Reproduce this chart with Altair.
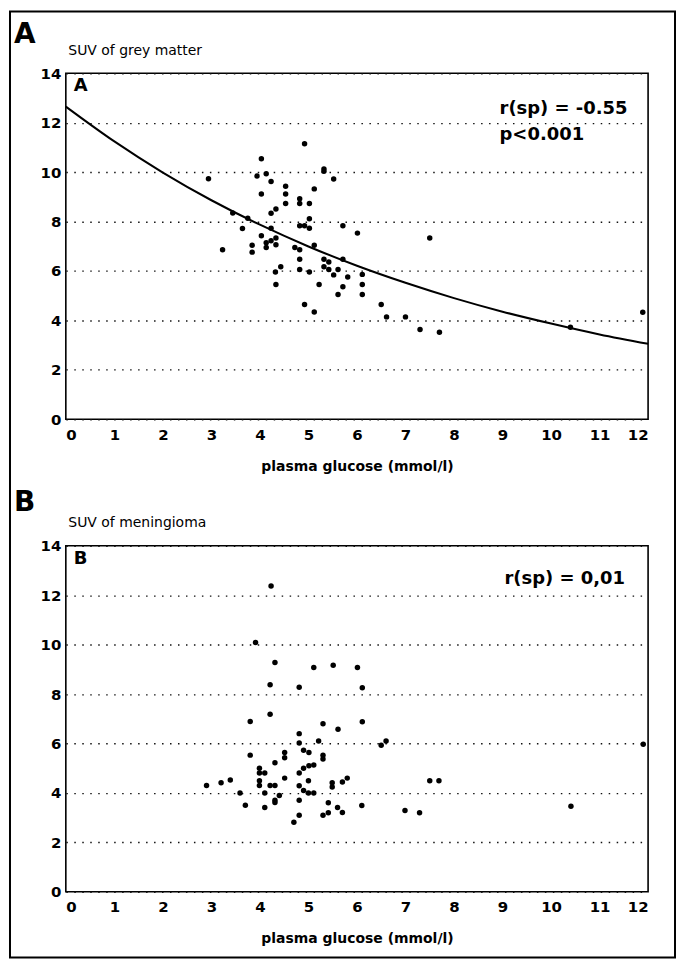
import altair as alt
import pandas as pd

# ---------------- data ----------------
glucose_a = [2.94, 3.23, 3.44, 3.75, 3.64, 3.84, 3.84, 4.03, 3.94, 4.13,
             4.23, 4.03, 4.23, 4.33, 4.23, 4.03, 4.13, 4.13, 4.33, 4.33,
             4.23, 4.32, 4.43, 4.33, 4.53, 4.53, 4.53, 4.82, 4.82, 5.02,
             4.92, 5.12, 5.32, 5.32, 5.52, 5.02, 4.82, 4.92, 5.02, 4.72,
             4.82, 5.12, 4.82, 4.82, 5.02, 4.92, 5.12, 5.22, 5.32, 5.42,
             5.32, 5.42, 5.52, 5.61, 5.71, 5.71, 5.81, 5.71, 5.61, 6.01,
             6.11, 6.11, 6.11, 6.50, 6.61, 7.00, 7.30, 7.70, 7.50, 10.40,
             11.89]
suv_a = [9.73, 6.86, 8.34, 8.13, 7.72, 7.04, 6.76, 10.54, 9.84, 9.93,
         9.62, 9.11, 8.33, 8.51, 7.73, 7.42, 7.14, 6.95, 7.33, 7.06,
         7.22, 5.96, 6.17, 5.45, 9.43, 9.11, 8.73, 8.92, 8.73, 8.73,
         11.15, 9.32, 10.13, 10.03, 9.72, 8.11, 7.83, 7.83, 7.73, 6.95,
         6.86, 7.04, 6.47, 6.06, 5.96, 4.64, 4.34, 5.45, 6.47, 6.36,
         6.17, 6.06, 5.84, 6.06, 6.47, 7.83, 5.75, 5.36, 5.05, 7.53,
         5.86, 5.45, 5.05, 4.64, 4.14, 4.14, 3.63, 3.52, 7.33, 3.72,
         4.33]

# regression curve at whole glucose values
fit_glucose = [0, 1, 2, 3, 4, 5, 6, 7, 8, 9, 10, 11, 12]
fit_suv = [12.65, 11.24, 9.98, 8.86, 7.87, 6.99, 6.21, 5.52, 4.90, 4.35, 3.87, 3.43, 3.05]

glucose_b = [4.23, 3.91, 4.31, 5.11, 5.51, 6.01, 4.21, 4.81, 6.11, 4.21,
             3.80, 5.30, 5.61, 6.11, 4.81, 4.81, 5.21, 6.50, 6.60, 3.80,
             4.51, 4.51, 4.90, 5.01, 5.30, 5.30, 4.31, 3.99, 3.99, 4.10,
             4.90, 5.01, 5.11, 4.81, 3.99, 3.99, 4.51, 4.21, 4.31, 5.00,
             5.49, 5.49, 5.70, 5.80, 2.90, 3.20, 3.39, 3.59, 4.10, 4.81,
             4.90, 5.00, 5.11, 4.40, 4.31, 4.31, 4.81, 3.70, 4.10, 5.41,
             5.60, 5.70, 5.30, 5.41, 4.81, 4.70, 6.10, 6.99, 7.29, 7.50,
             7.69, 10.41, 11.90]
suv_b = [12.37, 10.09, 9.28, 9.08, 9.17, 9.08, 8.38, 8.28, 8.26, 7.18,
         6.89, 6.80, 6.58, 6.88, 6.40, 6.02, 6.10, 5.93, 6.10, 5.53,
         5.64, 5.42, 5.73, 5.64, 5.53, 5.37, 5.22, 5.00, 4.81, 4.81,
         5.00, 5.10, 5.13, 4.81, 4.49, 4.30, 4.60, 4.30, 4.30, 4.49,
         4.41, 4.24, 4.44, 4.60, 4.30, 4.41, 4.52, 4.00, 4.00, 4.29,
         4.10, 4.00, 4.00, 3.90, 3.70, 3.61, 3.70, 3.50, 3.41, 3.60,
         3.41, 3.21, 3.10, 3.20, 3.10, 2.81, 3.49, 3.29, 3.20, 4.49,
         4.49, 3.46, 5.97]

x_ticks = [0, 1, 2, 3, 4, 5, 6, 7, 8, 9, 10, 11, 12]
y_ticks = [0, 2, 4, 6, 8, 10, 12, 14]

FONT = "DejaVu Sans"
W, H = 584, 347


def x_axis():
    return alt.Axis(values=x_ticks, title="plasma glucose (mmol/l)", grid=False,
                    ticks=False, domain=False, labelFont=FONT, labelFontSize=15,
                    labelFontWeight="bold", labelColor="black", labelPadding=8,
                    titleFont=FONT, titleFontSize=14, titleFontWeight="bold",
                    titleColor="black", titlePadding=17)


def y_axis(title):
    return alt.Axis(values=y_ticks, title=title, titleAngle=0, titleAlign="left",
                    titleBaseline="middle", titleX=2, titleY=-23, titleFont=FONT,
                    titleFontSize=14, titleFontWeight="normal", titleColor="black",
                    grid=True, gridDash=[1.5, 6.5], gridColor="#111111", gridWidth=1.4,
                    ticks=False, domain=False, labelFont=FONT, labelFontSize=15,
                    labelFontWeight="bold", labelColor="black", labelPadding=5)


def label(text, x, y, size, weight="bold", align="left"):
    return alt.Chart(alt.Data(values=[{}])).mark_text(
        text=text, align=align, baseline="middle", fontSize=size,
        fontWeight=weight, font=FONT, color="black"
    ).encode(x=alt.value(x), y=alt.value(y))


xs = alt.Scale(domain=[0, 12], nice=False, zero=False)
ys = alt.Scale(domain=[0, 14], nice=False)
view = alt.ViewBackground(stroke="black", strokeWidth=1.6, fill="white")

# ---------------- panel A ----------------
df_a = pd.DataFrame({"glucose": glucose_a, "suv": suv_a})
df_fit = pd.DataFrame({"glucose": fit_glucose, "suv": fit_suv})

pts_a = alt.Chart(df_a).mark_circle(size=30, color="black", opacity=1).encode(
    x=alt.X("glucose:Q", scale=xs, axis=x_axis()),
    y=alt.Y("suv:Q", scale=ys, axis=y_axis("SUV of grey matter")),
)
curve = alt.Chart(df_fit).mark_line(color="black", strokeWidth=2, interpolate="monotone").encode(
    x=alt.X("glucose:Q", scale=xs), y=alt.Y("suv:Q", scale=ys)
)
frame = alt.Chart(alt.Data(values=[{}])).mark_rect(
    fill="transparent", stroke="black", strokeWidth=2
).encode(x=alt.value(-56), x2=alt.value(611), y=alt.value(-62), y2=alt.value(887))

panel_a = alt.layer(
    pts_a, curve,
    label("A", -52, -38, 28),
    label("A", 8, 13, 18),
    label("r(sp) = -0.55", 435, 36, 18),
    label("p<0.001", 435, 62, 18),
    frame,
).properties(width=W, height=H, view=view)

# ---------------- panel B ----------------
df_b = pd.DataFrame({"glucose": glucose_b, "suv": suv_b})
pts_b = alt.Chart(df_b).mark_circle(size=30, color="black", opacity=1).encode(
    x=alt.X("glucose:Q", scale=xs, axis=x_axis()),
    y=alt.Y("suv:Q", scale=ys, axis=y_axis("SUV of meningioma")),
)
panel_b = alt.layer(
    pts_b,
    label("B", -52, -43, 28),
    label("B", 8, 13, 18),
    label("r(sp) = 0,01", 440, 33, 18),
).properties(width=W, height=H, view=view)

chart = alt.vconcat(panel_a, panel_b, spacing=127, bounds="flush").properties(
    padding=0, background="white"
).configure_view(stroke="black", strokeWidth=1.6)

chart.save("out.html", embed_options={"renderer": "svg", "actions": False})
